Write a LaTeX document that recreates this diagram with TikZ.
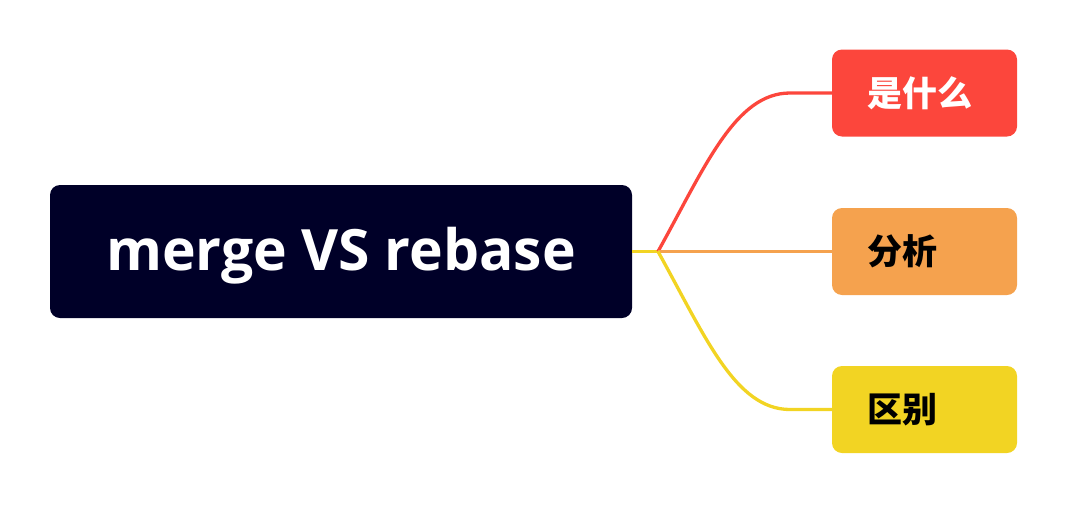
\documentclass[tikz,border=0pt]{standalone}
\usepackage{fontspec}
\setmainfont{Open Sans}
\newfontfamily\cjkfont{Noto Sans CJK SC}
\definecolor{rootbg}{HTML}{000028}
\definecolor{topicred}{HTML}{FC463C}
\definecolor{topicorange}{HTML}{F5A24E}
\definecolor{topicyellow}{HTML}{F2D423}
\tikzset{
  rootbox/.style={fill=rootbg, rounded corners=10pt, minimum width=582pt, minimum height=133pt,
    text=white, font=\fontsize{57}{62}\selectfont\bfseries, inner sep=0pt,
    text height=40pt, text depth=3pt},
  topicbox/.style={rounded corners=10pt, minimum width=185pt, minimum height=87pt,
    text width=115pt, inner xsep=35pt, inner ysep=0pt, align=left,
    font=\cjkfont\fontsize{35}{40}\selectfont\bfseries},
  branch/.style={line width=3.3pt},
}
\begin{document}
\begin{tikzpicture}[x=1pt,y=-1pt]
  \useasboundingbox (0,0) rectangle (1068,504);
  % central topic and the three subtopics
  \node[rootbox] (root) at (341,251.5) {merge VS rebase};
  \node[topicbox, fill=topicred, text=white] (what) at (924.5,93) {是什么};
  \node[topicbox, fill=topicorange, text=black] (analysis) at (924.5,251.5) {分析};
  \node[topicbox, fill=topicyellow, text=black] (diff) at (924.5,409.5) {区别};
  % fork point and the ends of the curved branches
  \coordinate (fork) at (658,251.5);
  \coordinate (upper) at (790,93);
  \coordinate (lower) at (790,409.5);
  % connectors
  \draw[branch, topicyellow] (root.east) -- (fork);
  \draw[branch, topicred] (fork) .. controls (705,167) and (735,93) .. (upper) -- (what.west);
  \draw[branch, topicorange] (fork) -- (analysis.west);
  \draw[branch, topicyellow] (fork) .. controls (705,336) and (735,409.5) .. (lower) -- (diff.west);
\end{tikzpicture}
\end{document}
